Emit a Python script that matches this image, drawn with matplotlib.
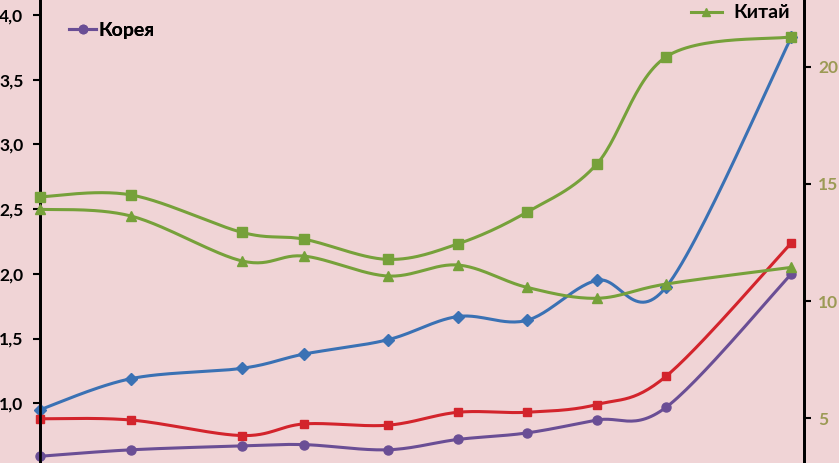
import numpy as np
import matplotlib
matplotlib.use('Agg')
import matplotlib.pyplot as plt
from matplotlib.lines import Line2D

# positions along the x axis (the chart has no x labels, spacing)
x_pos = [0, 1.31, 2.91, 3.80, 5.00, 6.01, 7.00, 8.01, 9.01, 10.81]

# left axis series
blue = [0.95, 1.19, 1.27, 1.38, 1.49, 1.67, 1.64, 1.95, 1.90, 3.83]
red = [0.88, 0.87, 0.75, 0.84, 0.83, 0.93, 0.93, 0.99, 1.21, 2.24]
korea = [0.59, 0.64, 0.67, 0.68, 0.64, 0.72, 0.77, 0.87, 0.97, 2.00]

# right axis series
green_sq = [14.45, 14.53, 12.93, 12.64, 11.78, 12.44, 13.79, 15.85, 20.43, 21.28]
china = [13.92, 13.63, 11.71, 11.92, 11.07, 11.54, 10.59, 10.12, 10.73, 11.44]

left_ticks = [1.0, 1.5, 2.0, 2.5, 3.0, 3.5, 4.0]
right_ticks = [5, 10, 15, 20]

BG = '#F0D4D6'
C_BLUE = '#3A71B4'
C_RED = '#D3242C'
C_PURPLE = '#6A4E95'
C_GREEN = '#76A13A'


def smooth(xs, ys, n=30):
    # excel-like smoothed line (catmull-rom as bezier segments)
    xs = np.asarray(xs, float)
    ys = np.asarray(ys, float)
    px = np.concatenate([[xs[0]], xs, [xs[-1]]])
    py = np.concatenate([[ys[0]], ys, [ys[-1]]])
    t = np.linspace(0, 1, n)
    out_x, out_y = [], []
    for i in range(1, len(px) - 2):
        p0x, p0y = px[i], py[i]
        p3x, p3y = px[i + 1], py[i + 1]
        c1x = p0x + (px[i + 1] - px[i - 1]) / 6
        c1y = p0y + (py[i + 1] - py[i - 1]) / 6
        c2x = p3x - (px[i + 2] - px[i]) / 6
        c2y = p3y - (py[i + 2] - py[i]) / 6
        bx = (1 - t)**3 * p0x + 3 * (1 - t)**2 * t * c1x + 3 * (1 - t) * t**2 * c2x + t**3 * p3x
        by = (1 - t)**3 * p0y + 3 * (1 - t)**2 * t * c1y + 3 * (1 - t) * t**2 * c2y + t**3 * p3y
        out_x.extend(bx)
        out_y.extend(by)
    return out_x, out_y


plt.rcParams['font.family'] = ['Lato', 'DejaVu Sans']

fig = plt.figure(figsize=(8.39, 4.63), dpi=100)
fig.patch.set_facecolor(BG)
ax = fig.add_axes([40 / 839, 0, 764 / 839, 1])
ax.set_facecolor(BG)
ax2 = ax.twinx()

lw = 2.2


def draw(axis, ys, color, marker, ms):
    sx, sy = smooth(x_pos, ys)
    axis.plot(sx, sy, color=color, lw=lw, zorder=3, clip_on=False)
    axis.plot(x_pos, ys, ls='none', marker=marker, ms=ms, color=color,
              mec=color, zorder=4, clip_on=False)


draw(ax, blue, C_BLUE, 'D', 6)
draw(ax, red, C_RED, 's', 6)
draw(ax, korea, C_PURPLE, 'o', 6.5)
draw(ax2, green_sq, C_GREEN, 's', 7)
draw(ax2, china, C_GREEN, '^', 7)

ax.set_xlim(0, 10.99)
ax.set_ylim(0.538, 4.116)
ax2.set_ylim(3.09, 22.85)

for a in (ax, ax2):
    a.spines['top'].set_visible(False)
    a.spines['bottom'].set_visible(False)
    a.spines['left'].set_linewidth(2)
    a.spines['right'].set_linewidth(2)
ax.set_xticks([])

ax.set_yticks(left_ticks)
ax.set_yticklabels([f'{v:.1f}'.replace('.', ',') for v in left_ticks])
ax.tick_params(axis='y', length=5, width=1.5, pad=7, labelsize=12.5)
for lab in ax.get_yticklabels():
    lab.set_fontweight('bold')

ax2.set_yticks(right_ticks)
ax2.tick_params(axis='y', length=5, width=1.5, pad=5, labelsize=12.5,
                labelcolor='#9C9A55')
for lab in ax2.get_yticklabels():
    lab.set_fontweight('bold')

h_korea = Line2D([], [], color=C_PURPLE, lw=lw, marker='o', ms=6)
h_china = Line2D([], [], color=C_GREEN, lw=lw, marker='^', ms=6)

leg1 = ax.legend([h_korea], ['Корея'], loc='center left',
                 bbox_to_anchor=(0.015, 0.935), frameon=False,
                 handlelength=1.4, handletextpad=0.1,
                 prop={'size': 14, 'weight': 'bold'})
ax.add_artist(leg1)
leg2 = ax2.legend([h_china], ['Китай'], loc='center right',
                  bbox_to_anchor=(1.005, 0.972), frameon=False,
                  handlelength=1.6, handletextpad=0.6,
                  prop={'size': 14, 'weight': 'bold'})

fig.savefig('out.png', dpi=100, facecolor=BG)
